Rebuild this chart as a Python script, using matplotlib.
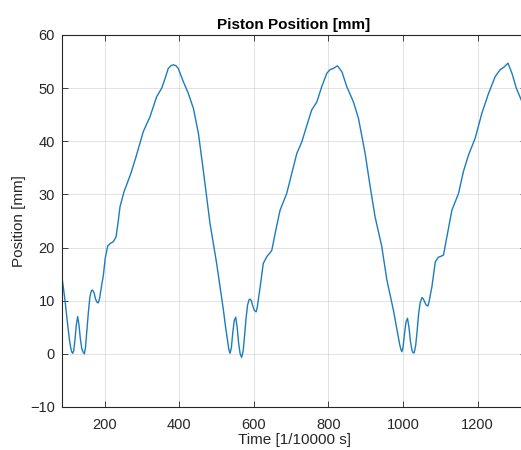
import matplotlib
matplotlib.use('Agg')
import matplotlib.pyplot as plt

# Time samples [1/10000 s] and piston position [mm]
time = [84, 88, 93, 97, 101, 105, 108.5, 111, 113.7, 116.5, 120, 123.5, 127,
        130.5, 134, 138, 142, 145, 148, 152, 156, 160, 164, 167, 171, 175, 179,
        182.5, 186, 190, 196, 201, 207.6, 215, 222.8, 230, 235, 240.7, 251.4,
        270, 283.7, 303, 321, 339, 352.6, 361.5, 370, 377, 384, 391, 397, 410.6,
        424, 437.5, 451, 464, 482, 500, 518, 524, 529, 532.5, 536, 539.5, 543,
        547, 551, 555, 559, 563, 567, 571, 575, 579, 583, 587, 589.7, 593, 597,
        601, 605.8, 609, 612, 616.5, 625, 634.6, 643, 648, 657, 670, 688, 701.6,
        715, 728.5, 742, 755, 768.8, 782, 795.6, 804.5, 813, 824, 836, 849, 867,
        880.5, 898.4, 911.8, 925, 943, 956.7, 974, 980, 986, 991, 994, 997,
        1000, 1004, 1008, 1012, 1016, 1020, 1024, 1027, 1030, 1034, 1038, 1042,
        1046, 1050.6, 1054, 1058, 1062, 1066.7, 1070, 1073, 1077.5, 1086.6,
        1095, 1100, 1108.6, 1117.7, 1131, 1149, 1162, 1175.7, 1193.7, 1211.7,
        1229.5, 1247.5, 1261, 1270, 1281.6, 1292.3, 1304, 1317, 1325]
position = [14.8, 12.8, 10.1, 7.5, 5.0, 2.6, 1.1, 0.4, 0.1, 0.6, 2.8, 5.5, 7.0,
            5.5, 3.0, 1.0, 0.3, 0.0, 1.2, 4.5, 8.0, 10.8, 11.9, 12.0, 11.5, 10.3,
            9.7, 9.6, 10.5, 12.3, 14.8, 18.0, 20.3, 20.8, 21.1, 22.0, 24.5, 27.7,
            30.5, 34.0, 37.1, 41.8, 44.6, 48.4, 50.0, 51.8, 53.7, 54.2, 54.4,
            54.2, 53.7, 51.2, 49.0, 46.2, 41.5, 34.6, 24.6, 17.0, 8.3, 5.0, 2.5,
            0.9, 0.1, 1.2, 3.8, 6.2, 6.9, 5.0, 2.0, 0.0, -0.65, 0.5, 3.5, 6.8,
            9.2, 10.2, 10.3, 10.0, 9.0, 8.2, 7.9, 8.8, 10.3, 12.5, 17.0, 18.3,
            19.0, 19.5, 22.7, 27.0, 30.2, 34.0, 37.7, 39.9, 43.0, 45.9, 47.4,
            50.3, 52.8, 53.5, 53.7, 54.2, 53.1, 50.3, 47.4, 44.3, 37.7, 31.5,
            25.8, 20.2, 13.9, 8.3, 6.0, 3.6, 1.8, 0.9, 0.4, 1.2, 3.8, 6.0, 6.7,
            5.0, 2.3, 0.7, 0.2, 0.2, 1.6, 4.4, 7.6, 9.6, 10.6, 10.4, 9.8, 9.2,
            9.0, 9.8, 11.0, 12.6, 17.3, 18.2, 18.3, 18.6, 22.0, 27.0, 30.2, 34.3,
            37.4, 40.6, 45.3, 49.0, 52.2, 53.5, 53.9, 54.7, 52.8, 50.0, 47.8,
            46.5]
xticks = [200, 400, 600, 800, 1000, 1200]
yticks = [-10, 0, 10, 20, 30, 40, 50, 60]

plt.rcParams['font.family'] = ['Liberation Sans', 'DejaVu Sans']

fig = plt.figure(figsize=(5.21, 4.5), dpi=100)
fig.patch.set_facecolor('white')
ax = fig.add_axes([62 / 521, 43 / 450, 464 / 521, 372 / 450])

ax.plot(time, position, color='#1a7dbd', lw=1.0)

ax.set_xlim(85, 1330)
ax.set_ylim(-10, 60)
ax.set_xticks(xticks)
ax.set_yticks(yticks)
ax.grid(True, color='#262626', alpha=0.15, lw=0.6)
ax.tick_params(direction='in', length=4, width=0.6, colors='#262626',
               labelsize=10.5, top=True, right=True)
ax.tick_params(axis='x', pad=8)
ax.tick_params(axis='y', pad=5)
for s in ax.spines.values():
    s.set_color('#262626')
    s.set_linewidth(0.8)

ax.set_title('Piston Position [mm]', fontsize=11, fontweight='bold', pad=4)
ax.set_xlabel('Time [1/10000 s]', fontsize=11, color='#262626', labelpad=0.5)
ax.set_ylabel('Position [mm]', fontsize=11, color='#262626', labelpad=3)

fig.savefig('out.png', dpi=100, facecolor='white')
